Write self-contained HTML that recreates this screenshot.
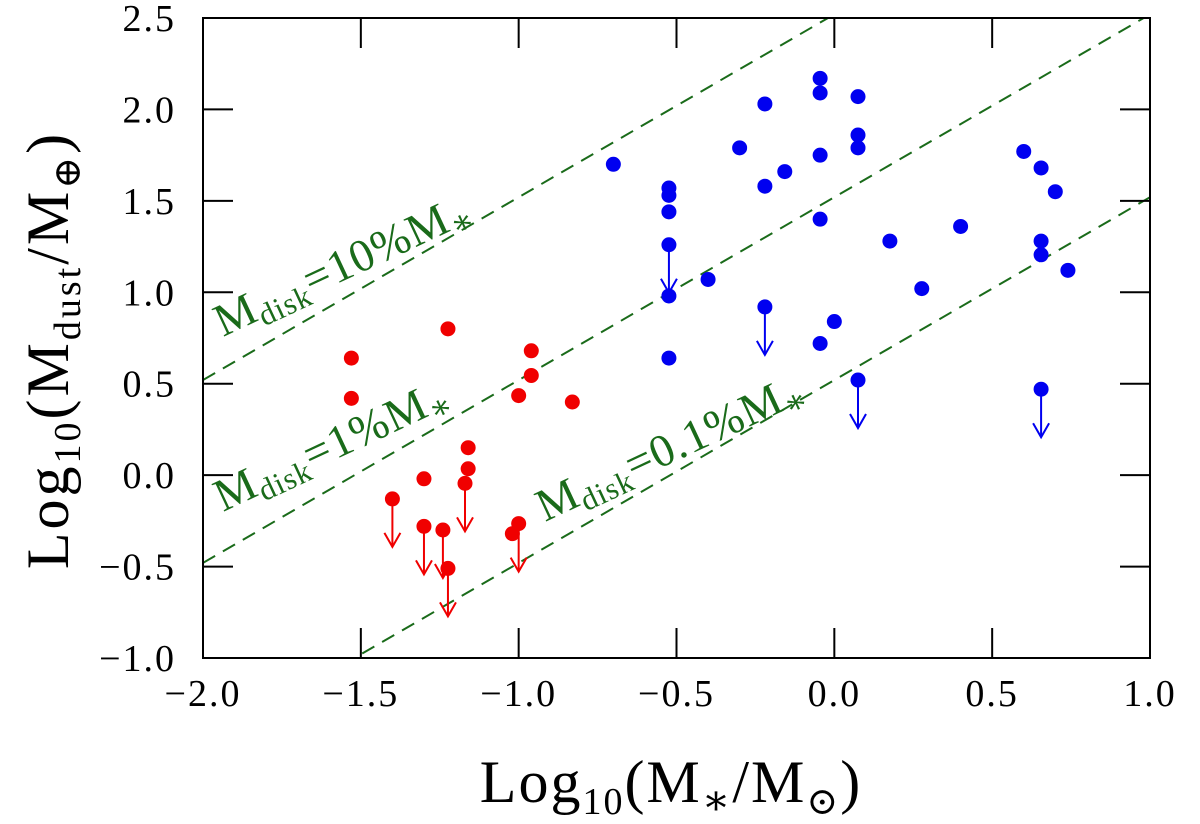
<!DOCTYPE html>
<html><head><meta charset="utf-8"><style>body{margin:0;background:#fff}svg{display:block}text{font-family:"Liberation Serif","DejaVu Serif",serif}</style></head>
<body>
<svg id="chart" width="1200" height="824" xmlns="http://www.w3.org/2000/svg"></svg>
<script>
const xTicks=[-2.0,-1.5,-1.0,-0.5,0.0,0.5,1.0];
const xTickLabels=["\u22122.0","\u22121.5","\u22121.0","\u22120.5","0.0","0.5","1.0"];
const yTicks=[-1.0,-0.5,0.0,0.5,1.0,1.5,2.0,2.5];
const yTickLabels=["\u22121.0","\u22120.5","0.0","0.5","1.0","1.5","2.0","2.5"];
const redX=[-1.53,-1.53,-1.224,-0.96,-0.96,-1.0,-0.83,-1.16,-1.16,-1.17,-1.30,-1.40,-1.30,-1.24,-1.224,-1.0,-1.02];
const redY=[0.64,0.42,0.80,0.68,0.545,0.435,0.40,0.15,0.035,-0.045,-0.02,-0.13,-0.28,-0.30,-0.51,-0.265,-0.32];
const redUL=[0,0,0,0,0,0,0,0,0,1,0,1,1,1,1,1,0];
const blueX=[-0.70,-0.524,-0.524,-0.524,-0.524,-0.524,-0.524,-0.40,-0.30,-0.22,-0.22,-0.22,-0.157,-0.045,-0.045,-0.045,-0.045,-0.045,0.0,0.075,0.075,0.075,0.075,0.176,0.277,0.40,0.60,0.655,0.655,0.655,0.655,0.70,0.74];
const blueY=[1.70,1.57,1.53,1.44,1.26,0.98,0.64,1.07,1.79,2.03,1.58,0.92,1.66,2.17,2.09,1.75,1.40,0.72,0.84,2.07,1.86,1.79,0.52,1.28,1.02,1.36,1.77,1.68,1.28,1.205,0.47,1.55,1.12];
const blueUL=[0,0,0,0,1,0,0,0,0,0,0,1,0,0,0,0,0,0,0,0,0,0,1,0,0,0,0,0,0,0,1,0,0];
const lineOffsets=[2.52,1.52,0.52];

const X0=203,X1=1150,Y0=658,Y1=18;
const sx=v=>X0+(v+2)/3*(X1-X0);
const sy=v=>Y0-(v+1)/3.5*(Y0-Y1);
const svg=document.getElementById('chart');
const NS='http://www.w3.org/2000/svg';
function mk(t,a,p){const e=document.createElementNS(NS,t);for(const k in a)e.setAttribute(k,a[k]);(p||svg).appendChild(e);return e;}

const defs=mk('defs',{});const cp=mk('clipPath',{id:'pc'},defs);mk('rect',{x:X0,y:Y1,width:X1-X0,height:Y0-Y1},cp);

lineOffsets.forEach((c,i)=>{
  const l=mk('line',{x1:sx(-2),y1:sy(-2+c),x2:sx(1),y2:sy(1+c),stroke:'#1a6b1a','stroke-width':2,'stroke-dasharray':'14 9','clip-path':'url(#pc)'});
  
  
});
const labs=[{px:223,py:337,p:'10%'},{px:223,py:512,p:'1%'},{px:545,py:522,p:'0.1%'}];
labs.forEach((L,i)=>{
  const t=mk('text',{x:L.px,y:L.py,fill:'#1a6b1a','font-size':46,'letter-spacing':1,transform:`rotate(-25 ${L.px} ${L.py})`});
  
  
  t.innerHTML=`M<tspan font-size="31" dy="8">disk</tspan><tspan dy="-8">=${L.p}M</tspan><tspan font-size="34" dy="8">\u2217</tspan>`;
});

function pts(xs,ys,ul,col,name){
  xs.forEach((x,i)=>{
    const cx=sx(x),cy=sy(ys[i]);
    if(ul[i]){
      const g=mk('g',{stroke:col,'stroke-width':2,fill:'none'});
      
      
      const L=48;
      mk('line',{x1:cx,y1:cy,x2:cx,y2:cy+L},g);
      mk('polyline',{points:`${cx-8},${cy+L-14} ${cx},${cy+L} ${cx+8},${cy+L-14}`},g);
    }
    const c=mk('circle',{cx:cx,cy:cy,r:7.5,fill:col});
    
    
  });
}
pts(redX,redY,redUL,'#f00000','red');
pts(blueX,blueY,blueUL,'#0000f0','blue');

const fr=mk('rect',{x:X0,y:Y1,width:X1-X0,height:Y0-Y1,fill:'none',stroke:'#000','stroke-width':2});


xTicks.forEach((v,i)=>{
  const x=sx(v);
  mk('line',{x1:x,y1:Y0,x2:x,y2:Y0-30,stroke:'#000','stroke-width':2});
  mk('line',{x1:x,y1:Y1,x2:x,y2:Y1+30,stroke:'#000','stroke-width':2});
  const t=mk('text',{x:x,y:706,'font-size':38,'letter-spacing':2,'text-anchor':'middle'});
  
  
  t.textContent=xTickLabels[i];
});
yTicks.forEach((v,i)=>{
  const y=sy(v);
  mk('line',{x1:X0,y1:y,x2:X0+30,y2:y,stroke:'#000','stroke-width':2});
  mk('line',{x1:X1,y1:y,x2:X1-30,y2:y,stroke:'#000','stroke-width':2});
  const t=mk('text',{x:176,y:y+13,'font-size':38,'letter-spacing':2,'text-anchor':'end'});
  
  
  t.textContent=yTickLabels[i];
});
const xt=mk('text',{x:671,y:802,'font-size':60,'letter-spacing':2,'text-anchor':'middle'});


xt.innerHTML='Log<tspan font-size="38" dy="12">10</tspan><tspan dy="-12">(M</tspan><tspan font-size="42" dy="12">\u2217</tspan><tspan dy="-12">/M</tspan><tspan font-size="38" dy="12">\u2299</tspan><tspan dy="-12">)</tspan>';
const yt=mk('text',{x:0,y:0,'font-size':60,'letter-spacing':3,'text-anchor':'middle',transform:'translate(68 350) rotate(-90)'});


yt.innerHTML='Log<tspan font-size="38" dy="12">10</tspan><tspan dy="-12">(M</tspan><tspan font-size="38" dy="12">dust</tspan><tspan dy="-12">/M</tspan><tspan font-size="38" dy="12">\u2295</tspan><tspan dy="-12">)</tspan>';
</script>
</body></html>
